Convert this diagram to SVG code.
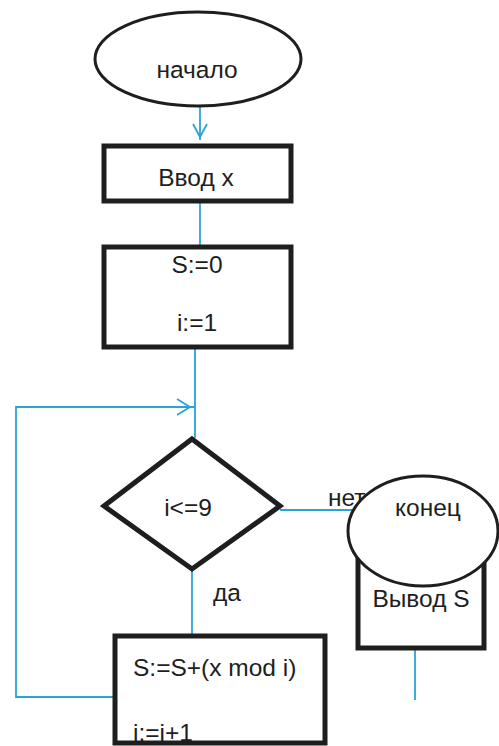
<svg xmlns="http://www.w3.org/2000/svg" width="499" height="746" viewBox="0 0 499 746">
  <style>
    .node { fill: #ffffff; stroke: #1e1e1e; }
    .box { stroke-width: 5; }
    .oval { stroke-width: 3; }
    .wire { fill: none; stroke: #2aa3d8; stroke-width: 1.8; }
    text { font-family: "Liberation Sans", Arial, sans-serif; font-size: 24.5px; fill: #1e1e1e; }
    .mid { text-anchor: middle; }
  </style>
  <rect width="499" height="746" fill="#ffffff"/>

  <!-- connectors -->
  <g id="connectors">
    <path class="wire" d="M200 107 V140"/>
    <path class="wire" d="M193 124 L200 137 L207 124"/>
    <path class="wire" d="M200 202 V248"/>
    <path class="wire" d="M195 348 V438"/>
    <path class="wire" d="M115 697 H16 V407 H195"/>
    <path class="wire" d="M177 399 L190 407 L177 415"/>
    <path class="wire" d="M280 510 H352"/>
    <path class="wire" d="M192 570 V635"/>
    <path class="wire" d="M415 648 V700"/>
  </g>

  <g id="start">
    <ellipse class="node oval" cx="198" cy="59" rx="103" ry="47"/>
    <text class="mid" x="197" y="78">начало</text>
  </g>

  <g id="input">
    <rect class="node box" x="104" y="146" width="187" height="55"/>
    <text class="mid" x="196" y="186">Ввод x</text>
  </g>

  <g id="init">
    <rect class="node box" x="104" y="247" width="187" height="100"/>
    <text class="mid" x="197" y="273">S:=0</text>
    <text class="mid" x="197" y="331">i:=1</text>
  </g>

  <g id="condition">
    <path class="node box" d="M192 439 L280 506 L192 569 L104 506 Z"/>
    <text class="mid" x="188" y="516">i&lt;=9</text>
  </g>

  <text id="label-yes" x="213" y="601">да</text>
  <text id="label-no" x="328" y="506">нет</text>

  <g id="body">
    <rect class="node box" x="115" y="636" width="210" height="107"/>
    <text x="133" y="676">S:=S+(x mod i)</text>
    <text x="133" y="741">i:=i+1</text>
  </g>

  <g id="output">
    <rect class="node box" x="358" y="560" width="126" height="88"/>
    <text class="mid" x="421" y="607">Вывод S</text>
  </g>

  <g id="end">
    <ellipse class="node oval" cx="423" cy="531" rx="75" ry="55"/>
    <text class="mid" x="428" y="516">конец</text>
  </g>
</svg>
